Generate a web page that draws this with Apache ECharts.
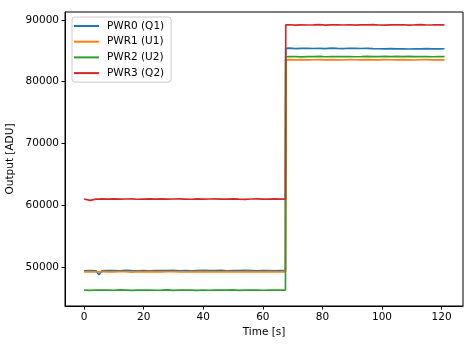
<!DOCTYPE html>
<html>
<head>
<meta charset="utf-8">
<script src="https://cdn.jsdelivr.net/npm/echarts@6/dist/echarts.min.js"></script>
<style>html,body{margin:0;padding:0;background:#fff;}#c{width:473px;height:347px;}</style>
</head>
<body>
<div id="c"></div>
<script>
var times = [0,2,4,5,6,8,10,12,14,16,18,20,22,24,26,28,30,32,34,36,38,40,42,44,46,48,50,52,54,56,58,60,62,64,66,67.6,
  67.7,69,71,73,75,77,79,81,83,85,87,89,91,93,95,97,99,101,103,105,107,109,111,113,115,117,119,121];

var seriesNames = ["PWR0 (Q1)", "PWR1 (U1)", "PWR2 (U2)", "PWR3 (Q2)"];

var pwr0 = [49420,49460,49430,48800,49430,49470,49440,49410,49480,49450,49430,49460,49420,49470,49440,49450,49490,49430,49460,49420,49450,49480,49440,49470,49510,49430,49460,49440,49480,49450,49420,49470,49450,49430,49460,
  49450,
  85380,85420,85350,85390,85410,85370,85400,85360,85420,85380,85350,85410,85390,85370,85400,85360,85330,85310,85340,85300,85320,85290,85330,85310,85340,85300,85320,85330];

var pwr1 = [49250,49280,49230,49270,49300,49260,49240,49290,49270,49220,49280,49250,49300,49260,49240,49270,49290,49250,49230,49280,49260,49300,49240,49270,49250,49290,49260,49230,49280,49250,49270,49240,49290,49260,49270,
  49260,
  83520,83560,83540,83580,83530,83550,83570,83520,83560,83540,83510,83570,83550,83530,83560,83540,83520,83570,83550,83530,83560,83540,83510,83550,83570,83530,83550,83540];

var pwr2 = [46300,46270,46320,46300,46290,46310,46280,46330,46300,46260,46310,46290,46320,46280,46300,46330,46270,46310,46290,46300,46260,46320,46280,46310,46290,46300,46330,46270,46310,46290,46300,46280,46320,46300,46290,
  46300,
  84030,84070,84050,84020,84060,84040,84080,84030,84050,84070,84040,84060,84030,84050,84080,84040,84070,84100,84060,84090,84050,84110,84070,84040,84060,84030,84050,84040];

var pwr3 = [61030,60800,61000,61020,61040,61010,61060,61000,61030,61050,60990,61020,61040,61010,61060,61000,61030,61050,61020,60990,61040,61010,61030,61060,61000,61020,61050,61010,60980,61030,61040,61000,61020,61050,61010,
  61020,
  89180,89210,89160,89200,89170,89190,89220,89150,89180,89200,89170,89210,89160,89190,89180,89220,89170,89150,89200,89180,89210,89160,89190,89230,89170,89180,89200,89190];

var xTicks = [0,20,40,60,80,100,120];
var yTicks = [50000,60000,70000,80000,90000];
var colors = ["#1f77b4","#ff7f0e","#2ca02c","#d62728"];

function pairs(vals){ return times.map(function(t,i){ return [t, vals[i]]; }); }
var allVals = [pwr0, pwr1, pwr2, pwr3];

var font = "DejaVu Sans";
var chart = echarts.init(document.getElementById('c'), null, {renderer:'canvas'});
chart.setOption({
  animation: false,
  backgroundColor: '#fff',
  textStyle: {fontFamily: font, color: '#000'},
  grid: {left: 65, right: 10, top: 12, bottom: 41, show: true, borderColor: '#000', borderWidth: 1,
    containLabel: false, outerBoundsMode: 'none'},
  xAxis: {
    type: 'value', min: -6.4, max: 127.2,
    name: 'Time [s]', nameLocation: 'middle', nameGap: 21, nameMoveOverlap: false,
    nameTextStyle: {fontFamily: font, fontSize: 10.5, color: '#000'},
    axisLine: {show: true, onZero: false, lineStyle: {color: '#000', width: 1}},
    axisTick: {show: true, length: 3.5, lineStyle: {color: '#000'}, customValues: xTicks},
    axisLabel: {fontFamily: font, fontSize: 10.5, color: '#000', margin: 6, customValues: xTicks,
      formatter: function(v){ return String(v); }},
    splitLine: {show: false}
  },
  yAxis: {
    type: 'value', min: 43730, max: 91270,
    name: 'Output [ADU]', nameLocation: 'middle', nameGap: 49, nameRotate: 90, nameMoveOverlap: false,
    nameTextStyle: {fontFamily: font, fontSize: 10.5, color: '#000'},
    axisLine: {show: true, onZero: false, lineStyle: {color: '#000', width: 1}},
    axisTick: {show: true, length: 3.5, lineStyle: {color: '#000'}, customValues: yTicks},
    axisLabel: {fontFamily: font, fontSize: 10.5, color: '#000', margin: 6, customValues: yTicks,
      formatter: function(v){ return String(v); }},
    splitLine: {show: false}
  },
  legend: {
    show: true, orient: 'vertical', left: 72, top: 17,
    padding: [3, 7, 3, 2], itemGap: 3.7, itemWidth: 25, itemHeight: 2,
    icon: 'rect',
    borderColor: '#cccccc', borderWidth: 1, borderRadius: 3, backgroundColor: 'rgba(255,255,255,0.8)',
    textStyle: {fontFamily: font, fontSize: 10.5, color: '#000', lineHeight: 12, padding: [0,0,0,3]},
    data: seriesNames
  },
  series: seriesNames.map(function(n, i){
    return {
      name: n, type: 'line', data: pairs(allVals[i]), showSymbol: false, symbol: 'none',
      lineStyle: {color: colors[i], width: 1.7}, itemStyle: {color: colors[i]}, z: 2 + i
    };
  })
});
</script>
</body>
</html>
